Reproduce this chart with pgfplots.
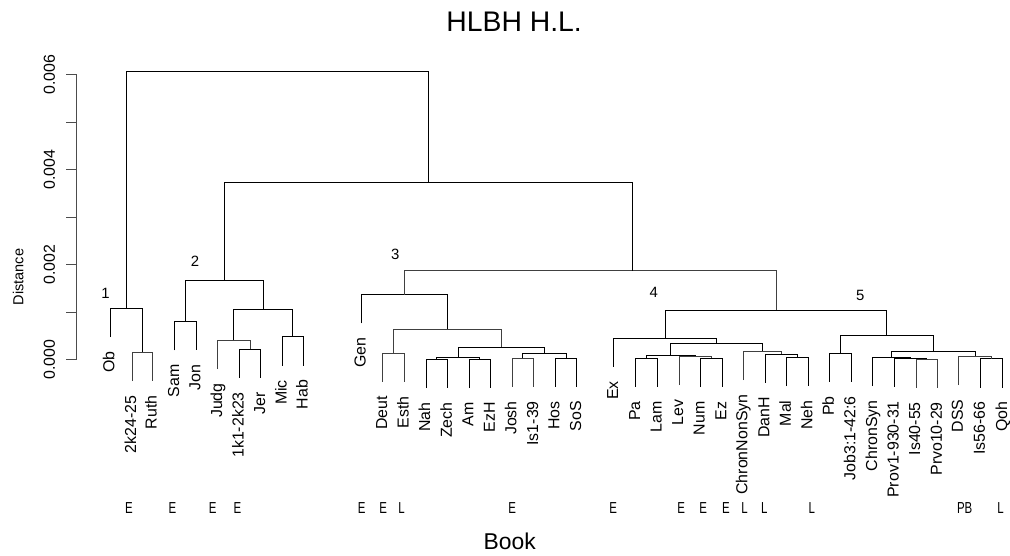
\documentclass[border=0pt]{standalone}
\usepackage{fontspec}
\setmainfont{Liberation Sans}
\usepackage{graphicx}
\usepackage{pgfplots}
\pgfplotsset{compat=1.18}
\begin{document}
\begin{tikzpicture}
\begin{axis}[
  scale only axis,
  width=466.65pt, height=143.4pt,
  xmin=76.7, xmax=1010, ymin=0, ymax=0.006,
  enlargelimits=false, clip=false,
  axis x line=none, axis y line*=left,
  ytick={0,0.001,0.002,0.003,0.004,0.005,0.006},
  yticklabels={\textrm{0.000},,\textrm{0.002},,\textrm{0.004},,\textrm{0.006}},
  scaled y ticks=false,
  tick align=outside, major tick length=5pt,
  y axis line style={draw=black!70, line width=0.5pt},
  ytick style={draw=black!70, line width=0.5pt},
  yticklabel shift=4.5pt,
  yticklabel style={rotate=90, anchor=south, font=\fontsize{8}{9}\selectfont, inner sep=1pt},
  cycle list={{draw=black!75, solid, line width=0.5pt, mark=none}},
]
\path (axis cs:0,-0.0041276) rectangle (axis cs:1010,0.0075669);
% cluster 1
\addplot coordinates {(132.7,-0.000451) (132.7,0.000155) (153.3,0.000155) (153.3,-0.000451)};
\addplot coordinates {(110.7,0.000474) (110.7,0.00108) (143,0.00108) (143,0.000155)};
% cluster 2
\addplot coordinates {(175.7,0.000197) (175.7,0.000803) (197.3,0.000803) (197.3,0.000197)};
\addplot coordinates {(240.7,-0.000382) (240.7,0.000224) (262.3,0.000224) (262.3,-0.000382)};
\addplot coordinates {(219,-0.000196) (219,0.00041) (251.5,0.00041) (251.5,0.000224)};
\addplot coordinates {(284,-0.000126) (284,0.00048) (305,0.00048) (305,-0.000126)};
\addplot coordinates {(235.25,0.00041) (235.25,0.001046) (294.5,0.001046) (294.5,0.00048)};
\addplot coordinates {(186.5,0.000803) (186.5,0.00166) (264.9,0.00166) (264.9,0.001046)};
% cluster 3
\addplot coordinates {(385,-0.000466) (385,0.00014) (406.7,0.00014) (406.7,-0.000466)};
\addplot coordinates {(428.3,-0.000596) (428.3,0.00001) (450,0.00001) (450,-0.000596)};
\addplot coordinates {(471.7,-0.000596) (471.7,0.00001) (493.3,0.00001) (493.3,-0.000596)};
\addplot coordinates {(439.15,0.00001) (439.15,0.000056) (482.5,0.000056) (482.5,0.00001)};
\addplot coordinates {(515,-0.000571) (515,0.000035) (536.7,0.000035) (536.7,-0.000571)};
\addplot coordinates {(558.3,-0.000571) (558.3,0.000035) (580,0.000035) (580,-0.000571)};
\addplot coordinates {(525.85,0.000035) (525.85,0.000126) (569.15,0.000126) (569.15,0.000035)};
\addplot coordinates {(460.8,0.000056) (460.8,0.000266) (547.5,0.000266) (547.5,0.000126)};
\addplot coordinates {(395.85,0.00014) (395.85,0.000642) (504.15,0.000642) (504.15,0.000266)};
\addplot coordinates {(363.3,0.000764) (363.3,0.00137) (450,0.00137) (450,0.000642)};
% cluster 4
\addplot coordinates {(639.3,-0.000571) (639.3,0.000035) (661,0.000035) (661,-0.000571)};
\addplot coordinates {(704.3,-0.000576) (704.3,0.00003) (726,0.00003) (726,-0.000576)};
\addplot coordinates {(682.7,-0.000536) (682.7,0.00007) (715.15,0.00007) (715.15,0.00003)};
\addplot coordinates {(650.15,0.000035) (650.15,0.000092) (698.9,0.000092) (698.9,0.00007)};
\addplot coordinates {(791,-0.000556) (791,0.00005) (812.7,0.00005) (812.7,-0.000556)};
\addplot coordinates {(769.3,-0.000486) (769.3,0.00012) (801.85,0.00012) (801.85,0.00005)};
\addplot coordinates {(747.3,-0.000431) (747.3,0.000175) (785.6,0.000175) (785.6,0.00012)};
\addplot coordinates {(674.5,0.000092) (674.5,0.000335) (766.45,0.000335) (766.45,0.000175)};
\addplot coordinates {(617.3,-0.000152) (617.3,0.000454) (720.5,0.000454) (720.5,0.000335)};
% cluster 5
\addplot coordinates {(834.3,-0.000466) (834.3,0.00014) (855.7,0.00014) (855.7,-0.000466)};
\addplot coordinates {(921,-0.000591) (921,0.000015) (942.7,0.000015) (942.7,-0.000591)};
\addplot coordinates {(899.3,-0.000571) (899.3,0.000035) (931.85,0.000035) (931.85,0.000015)};
\addplot coordinates {(877.7,-0.000556) (877.7,0.00005) (915.6,0.00005) (915.6,0.000035)};
\addplot coordinates {(986,-0.000586) (986,0.00002) (1008.3,0.00002) (1008.3,-0.000586)};
\addplot coordinates {(964,-0.000536) (964,0.00007) (997.15,0.00007) (997.15,0.00002)};
\addplot coordinates {(896.65,0.00005) (896.65,0.000175) (980.6,0.000175) (980.6,0.00007)};
\addplot coordinates {(845,0.00014) (845,0.000502) (938.6,0.000502) (938.6,0.000175)};
% upper merges
\addplot coordinates {(668.9,0.000454) (668.9,0.001046) (891.8,0.001046) (891.8,0.000502)};
\addplot coordinates {(406.65,0.00137) (406.65,0.00187) (780.35,0.00187) (780.35,0.001046)};
\addplot coordinates {(225.7,0.00166) (225.7,0.00372) (636,0.00372) (636,0.00187)};
\addplot coordinates {(126.85,0.00108) (126.85,0.00606) (430.85,0.00606) (430.85,0.00372)};
% leaf labels
\begin{scope}[every node/.style={rotate=90, anchor=base east, inner sep=0pt, font=\fontsize{8}{9}\selectfont}]
\node at (axis cs:115.0,0.00018) {Ob};
\node at (axis cs:137.0,-0.000745) {2k24-25};
\node at (axis cs:157.6,-0.000745) {Ruth};
\node at (axis cs:180.0,-0.000097) {Sam};
\node at (axis cs:201.6,-0.000097) {Jon};
\node at (axis cs:223.3,-0.00049) {Judg};
\node at (axis cs:245.0,-0.000676) {1k1-2k23};
\node at (axis cs:266.6,-0.000676) {Jer};
\node at (axis cs:288.3,-0.00042) {Mic};
\node at (axis cs:309.3,-0.00042) {Hab};
\node at (axis cs:367.6,0.00047) {Gen};
\node at (axis cs:389.3,-0.00076) {Deut};
\node at (axis cs:411.0,-0.00076) {Esth};
\node at (axis cs:432.6,-0.00089) {Nah};
\node at (axis cs:454.3,-0.00089) {Zech};
\node at (axis cs:476.0,-0.00089) {Am};
\node at (axis cs:497.6,-0.00089) {EzH};
\node at (axis cs:519.3,-0.000865) {Josh};
\node at (axis cs:541.0,-0.000865) {Is1-39};
\node at (axis cs:562.6,-0.000865) {Hos};
\node at (axis cs:584.3,-0.000865) {SoS};
\node at (axis cs:621.6,-0.000446) {Ex};
\node at (axis cs:643.6,-0.000865) {Pa};
\node at (axis cs:665.3,-0.000865) {Lam};
\node at (axis cs:687.0,-0.00083) {Lev};
\node at (axis cs:708.6,-0.00087) {Num};
\node at (axis cs:730.3,-0.00087) {Ez};
\node at (axis cs:751.6,-0.000725) {ChronNonSyn};
\node at (axis cs:773.6,-0.00078) {DanH};
\node at (axis cs:795.3,-0.00085) {Mal};
\node at (axis cs:817.0,-0.00085) {Neh};
\node at (axis cs:838.6,-0.00076) {Pb};
\node at (axis cs:860.0,-0.00076) {Job3:1-42:6};
\node at (axis cs:882.0,-0.00085) {ChronSyn};
\node at (axis cs:903.6,-0.000865) {Prov1-930-31};
\node at (axis cs:925.3,-0.000885) {Is40-55};
\node at (axis cs:947.0,-0.000885) {Prvo10-29};
\node at (axis cs:968.3,-0.00083) {DSS};
\node at (axis cs:990.3,-0.00088) {Is56-66};
\node at (axis cs:1012.6,-0.00088) {Qoh};
\end{scope}
% cluster numbers
\begin{scope}[every node/.style={anchor=center, inner sep=0pt, font=\fontsize{7.5}{9}\selectfont}]
\node at (axis cs:106,0.001395) {1};
\node at (axis cs:196,0.002071) {2};
\node at (axis cs:397.5,0.002226) {3};
\node at (axis cs:657.3,0.001416) {4};
\node at (axis cs:865,0.001347) {5};
\end{scope}
% period letters
\begin{scope}[every node/.style={anchor=base, inner sep=0pt, font=\fontsize{8}{10}\selectfont}]
\node at (axis cs:129.7,-0.00323) {\scalebox{0.72}[1]{E}};
\node at (axis cs:173.3,-0.00323) {\scalebox{0.72}[1]{E}};
\node at (axis cs:214,-0.00323) {\scalebox{0.72}[1]{E}};
\node at (axis cs:238.8,-0.00323) {\scalebox{0.72}[1]{E}};
\node at (axis cs:363.7,-0.00323) {\scalebox{0.72}[1]{E}};
\node at (axis cs:385.2,-0.00323) {\scalebox{0.72}[1]{E}};
\node at (axis cs:403.8,-0.00323) {\scalebox{0.72}[1]{L}};
\node at (axis cs:515,-0.00323) {\scalebox{0.72}[1]{E}};
\node at (axis cs:616.5,-0.00323) {\scalebox{0.72}[1]{E}};
\node at (axis cs:685,-0.00323) {\scalebox{0.72}[1]{E}};
\node at (axis cs:707,-0.00323) {\scalebox{0.72}[1]{E}};
\node at (axis cs:730,-0.00323) {\scalebox{0.72}[1]{E}};
\node at (axis cs:748.8,-0.00323) {\scalebox{0.72}[1]{L}};
\node at (axis cs:768.6,-0.00323) {\scalebox{0.72}[1]{L}};
\node at (axis cs:816.3,-0.00323) {\scalebox{0.72}[1]{L}};
\node at (axis cs:970,-0.00323) {\scalebox{0.72}[1]{PB}};
\node at (axis cs:1006,-0.00323) {\scalebox{0.72}[1]{L}};
\end{scope}
% titles
\node[anchor=base, inner sep=0pt, font=\fontsize{11.5}{13}\selectfont] at (axis cs:512.5,-0.003985) {Book};
\node[anchor=base, inner sep=0pt, font=\fontsize{14.25}{16}\selectfont] at (axis cs:517,0.0069038) {HLBH H.L.};
\node[rotate=90, anchor=center, inner sep=0pt, font=\fontsize{7.3}{9}\selectfont] at (axis cs:18.3,0.00174) {Distance};
\end{axis}
\end{tikzpicture}
\end{document}
